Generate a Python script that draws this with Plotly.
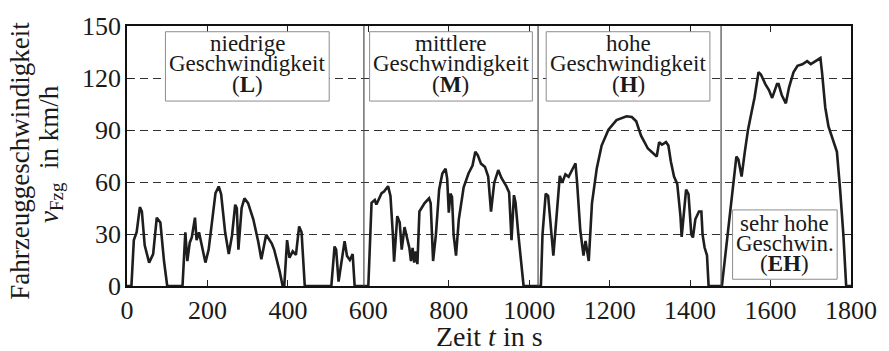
import plotly.graph_objects as go

# Low phase (L)
t_low = [0, 11, 17, 24, 32, 37, 44, 55, 65, 74, 83, 92, 100, 138, 145, 150, 156, 161, 169, 173,
         179, 183, 195, 203, 220, 228, 234, 244, 253, 261, 269, 273, 277, 285, 292, 301, 314, 326, 334, 346,
         354, 360, 366, 374, 380, 387, 391, 398, 404, 412, 420, 428, 434, 442, 508, 516, 520, 526, 532, 541,
         547, 554, 561, 566]
v_low = [0, 0, 26.5, 31, 45.5, 43, 23.5, 13.5, 18.4, 39.4, 36.6, 14.4, 0, 0, 31, 14.4, 25, 28, 39.4, 26.5,
         31, 26.5, 13.5, 21, 53.6, 57.4, 53, 31, 18.4, 29, 46.9, 45, 20.9, 45, 50.6, 47.8, 38.5, 25.9, 15.4, 29.6,
         27, 24.5, 20.9, 14.4, 8, 0, 0, 26.5, 16.3, 20, 18, 34.4, 31, 0, 0, 22.8, 21, 2.5, 12, 25.9,
         17.3, 15, 18.4, 0]
# Medium phase (M)
t_mid = [600, 608, 616, 620, 633, 639, 649, 655, 661, 664, 672, 678, 683, 690, 696, 702, 706, 710, 714, 718,
         722, 727, 740, 751, 755, 761, 768, 776, 784, 792, 796, 800, 804, 808, 812, 818, 825, 837, 849, 859,
         866, 872, 880, 890, 898, 905, 913, 923, 931, 943, 950, 956, 962, 966, 973, 980, 986, 1022]
v_mid = [0, 48, 49.6, 47, 53.6, 54.5, 57.6, 52, 29.6, 14, 40.3, 36.6, 21, 34, 28, 22, 14.4, 22, 13.5, 20,
         12.6, 43, 47.8, 50.6, 47.8, 14.4, 29.6, 55.6, 64.9, 67.7, 62, 42.3, 53.3, 51.5, 29.6, 17.5, 38.5, 56.9, 64.9, 69.5,
         77.4, 75.5, 70.6, 68.7, 63.1, 42.9, 59.6, 66.9, 62.3, 57.6, 54, 26.5, 52.4, 48, 29.6, 12, 0, 0]
# High phase (H)
t_high = [1029, 1033, 1041, 1047, 1054, 1060, 1068, 1076, 1082, 1090, 1098, 1107, 1115, 1119, 1127, 1135, 1140, 1148, 1156, 1168,
          1180, 1197, 1217, 1242, 1255, 1266, 1278, 1295, 1317, 1323, 1330, 1340, 1346, 1352, 1360, 1368, 1376, 1379, 1384, 1390,
          1396, 1403, 1407, 1413, 1422, 1428, 1431, 1436, 1442, 1446, 1479]
v_high = [0, 29.6, 53.3, 52, 32, 17.5, 40.3, 63.5, 59.6, 64.4, 63, 67.2, 70.8, 59.6, 32, 17.5, 26, 14.4, 47.8, 68,
          81, 90.2, 95.7, 97.9, 97.5, 95, 86.7, 79.3, 74.7, 83, 81.5, 83, 81, 72, 63.1, 58.9, 40.3, 28.3, 40, 55.6,
          53, 29.6, 28, 38.5, 43, 43, 29.6, 22.2, 17.6, 0, 0]
# Extra-high phase (EH)
t_eh = [1491, 1503, 1515, 1520, 1528, 1536, 1544, 1552, 1560, 1570, 1576, 1587, 1596, 1604, 1616, 1620, 1628, 1638, 1646, 1657,
        1667, 1679, 1691, 1700, 1716, 1724, 1728, 1736, 1744, 1752, 1765, 1773, 1781, 1788, 1800]
v_eh = [25, 47.8, 74.7, 73, 63.1, 77.4, 90.2, 99.4, 108.5, 123.3, 122, 116.5, 113, 108.5, 116.5, 116.5, 110, 105.4, 114.6, 123.3,
        127, 127.9, 129.7, 128, 130.6, 131.5, 123.3, 103, 92, 86.7, 77.4, 55.4, 29.6, 0, 0]

phase_bounds = [589, 1022, 1477]

# Phase label boxes: text lines, box extents (data units)
box_lines = [["niedrige", "Geschwindigkeit", "(<b>L</b>)"],
             ["mittlere", "Geschwindigkeit", "(<b>M</b>)"],
             ["hohe", "Geschwindigkeit", "(<b>H</b>)"],
             ["sehr hohe", "Geschwin.", "(<b>EH</b>)"]]
box_x0 = [95.6, 603.2, 1042.2, 1505.6]
box_x1 = [502.7, 1007.8, 1449.2, 1765.6]
box_y0 = [106.7, 106.7, 106.7, 3.9]
box_y1 = [146.7, 146.7, 146.7, 43.9]
line_y = [[140.1, 128.1, 116.0], [140.1, 128.1, 116.0], [140.1, 128.1, 116.0], [36.3, 24.6, 12.9]]

x_ticks = [0, 200, 400, 600, 800, 1000, 1200, 1400, 1600, 1800]
y_ticks = [0, 30, 60, 90, 120, 150]

t = t_low + t_mid + t_high + t_eh
v = v_low + v_mid + v_high + v_eh

FONT = "Liberation Serif"
TXT = "#1a1a1a"

fig = go.Figure()
fig.add_trace(go.Scatter(x=t, y=v, mode="lines",
                         line=dict(color="#1e1e1e", width=2.6), hoverinfo="skip",
                         showlegend=False))

for b in phase_bounds:
    fig.add_shape(type="line", xref="x", yref="paper", x0=b, x1=b, y0=0, y1=1,
                  line=dict(color="#4a4a4a", width=1.2), layer="above")

for lines, x0, x1, y0, y1, ys in zip(box_lines, box_x0, box_x1, box_y0, box_y1, line_y):
    fig.add_shape(type="rect", xref="x", yref="y", x0=x0, x1=x1, y0=y0, y1=y1,
                  fillcolor="white", line=dict(color="#8c8c8c", width=1), layer="above")
    for txt, yy in zip(lines, ys):
        fig.add_annotation(x=(x0 + x1) / 2, y=yy, xref="x", yref="y", text=txt,
                           showarrow=False, font=dict(family=FONT, size=23, color=TXT),
                           xanchor="center", yanchor="middle")

fig.add_annotation(xref="paper", yref="paper", x=0.5, y=-0.193,
                   text="Zeit <i>t</i> in s", showarrow=False,
                   font=dict(family=FONT, size=28, color=TXT),
                   xanchor="center", yanchor="middle")
fig.add_annotation(xref="paper", yref="paper", x=-0.147, y=0.48,
                   text="Fahrzeuggeschwindigkeit",
                   textangle=-90, showarrow=False,
                   font=dict(family=FONT, size=27, color=TXT),
                   xanchor="center", yanchor="middle")
fig.add_annotation(xref="paper", yref="paper", x=-0.106, y=0.509,
                   text="<i>v</i><sub>Fzg</sub>&nbsp;&nbsp;in km/h",
                   textangle=-90, showarrow=False,
                   font=dict(family=FONT, size=27, color=TXT),
                   xanchor="center", yanchor="middle")

fig.update_layout(
    width=889, height=351,
    margin=dict(l=127, r=28, t=16, b=65),
    paper_bgcolor="white", plot_bgcolor="white",
    font=dict(family=FONT, size=26, color=TXT),
    xaxis=dict(range=[0, 1800], tickvals=x_ticks, ticks="inside", ticklen=6,
               tickcolor="#222", showline=True, linecolor="#111", linewidth=1.5,
               mirror="ticks", showgrid=False, zeroline=False, ticklabelstandoff=0,
               tickfont=dict(family=FONT, size=26, color=TXT)),
    yaxis=dict(range=[0, 150], tickvals=y_ticks, ticks="inside", ticklen=6,
               tickcolor="#222", showline=True, linecolor="#111", linewidth=1.5,
               mirror="ticks", showgrid=True, gridcolor="#333", gridwidth=1,
               griddash="8px,5px", zeroline=False, ticklabelstandoff=-1,
               tickfont=dict(family=FONT, size=26, color=TXT)),
)

fig.write_html("out.html")
